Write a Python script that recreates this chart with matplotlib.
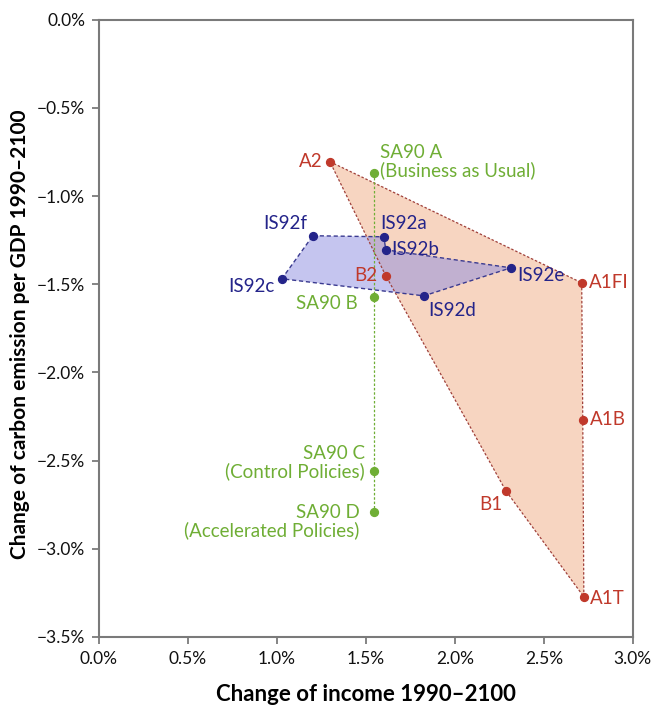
import matplotlib
matplotlib.use("Agg")
import matplotlib.pyplot as plt
from matplotlib.patches import Polygon
from matplotlib.ticker import FuncFormatter

plt.rcParams['font.family'] = ['Lato', 'DejaVu Sans']

# SRES scenarios (income change %, carbon intensity change %)
sres_names = ['A2', 'A1FI', 'A1B', 'A1T', 'B1', 'B2']
sres_x = [1.298, 2.713, 2.719, 2.725, 2.287, 1.612]
sres_y = [-0.805, -1.492, -2.269, -3.273, -2.672, -1.452]

# IS92 scenarios
is92_names = ['IS92f', 'IS92a', 'IS92b', 'IS92e', 'IS92d', 'IS92c']
is92_x = [1.202, 1.601, 1.612, 2.315, 1.826, 1.028]
is92_y = [-1.225, -1.231, -1.305, -1.407, -1.566, -1.469]

# SA90 scenarios
sa90_names = ['SA90 A\n(Business as Usual)', 'SA90 B',
              'SA90 C\n(Control Policies)', 'SA90 D\n(Accelerated Policies)']
sa90_x = [1.545, 1.545, 1.545, 1.545]
sa90_y = [-0.868, -1.571, -2.558, -2.791]

red = '#c0392b'
blue = '#24248a'
green = '#6fae35'

fig = plt.figure(figsize=(6.51, 7.06), dpi=100)
ax = fig.add_axes([0.152, 0.098, 0.820, 0.874])

# filled areas
ax.add_patch(Polygon(list(zip(sres_x, sres_y)), closed=True,
                     facecolor='#f2b48e', alpha=0.55, edgecolor='none', zorder=1))
ax.add_patch(Polygon(list(zip(is92_x, is92_y)), closed=True,
                     facecolor='#8c8ce0', alpha=0.5, edgecolor='none', zorder=1))

# outlines
ax.plot(sres_x + sres_x[:1], sres_y + sres_y[:1], ls=(0, (2, 1.5)), lw=0.9,
        color='#a0403a', zorder=2)
ax.plot(is92_x + is92_x[:1], is92_y + is92_y[:1], ls=(0, (3, 2)), lw=1.0,
        color='#3a3a90', zorder=2)
ax.plot(sa90_x, sa90_y, ls=(0, (2, 1.5)), lw=0.9, color=green, zorder=2)

ax.scatter(sres_x, sres_y, s=32, color=red, zorder=4)
ax.scatter(is92_x, is92_y, s=32, color=blue, zorder=4)
ax.scatter(sa90_x, sa90_y, s=32, color=green, zorder=4)

fs = 13.5
sres_off = {'A2': (-7, 0, 'right'), 'A1FI': (7, 0, 'left'), 'A1B': (7, 0, 'left'),
            'A1T': (6, -2, 'left'), 'B1': (-3, -14, 'right'), 'B2': (-8, 0, 'right')}
for n, x, y in zip(sres_names, sres_x, sres_y):
    dx, dy, ha = sres_off[n]
    ax.annotate(n, (x, y), xytext=(dx, dy), textcoords='offset pixels',
                ha=ha, va='center', color=red, fontsize=fs, zorder=5)

is92_off = {'IS92f': (-6, 12, 'right'), 'IS92a': (-4, 13, 'left'),
            'IS92b': (5, 0, 'left'), 'IS92e': (6, -8, 'left'),
            'IS92d': (4, -15, 'left'), 'IS92c': (-7, -8, 'right')}
for n, x, y in zip(is92_names, is92_x, is92_y):
    dx, dy, ha = is92_off[n]
    ax.annotate(n, (x, y), xytext=(dx, dy), textcoords='offset pixels',
                ha=ha, va='center', color=blue, fontsize=fs, zorder=5)

sa90_off = [(6, 11, 'left'), (-16, -7, 'right'), (-9, 8, 'right'), (-14, -10, 'right')]
for n, x, y, (dx, dy, ha) in zip(sa90_names, sa90_x, sa90_y, sa90_off):
    ax.annotate(n, (x, y), xytext=(dx, dy), textcoords='offset pixels',
                ha=ha, va='center', multialignment=ha, color=green,
                fontsize=fs, linespacing=1.0, zorder=5)

ax.set_xlim(0, 3.0)
ax.set_ylim(-3.5, 0)
ax.set_xticks([0, 0.5, 1.0, 1.5, 2.0, 2.5, 3.0])
ax.set_yticks([0, -0.5, -1.0, -1.5, -2.0, -2.5, -3.0, -3.5])
ax.xaxis.set_major_formatter(FuncFormatter(lambda v, p: f'{v:.1f}%'))
ax.yaxis.set_major_formatter(FuncFormatter(lambda v, p: ('\u2212' if v < 0 else '') + f'{abs(v):.1f}%'))
ax.tick_params(direction='out', length=5, width=1.2, color='#707070',
               labelsize=12.5, labelcolor='#111111', pad=5)

for s in ax.spines.values():
    s.set_color('#7a7a7a')
    s.set_linewidth(1.5)

ax.set_xlabel('Change of income 1990\u20132100', fontsize=16, fontweight='bold')
ax.set_ylabel('Change of carbon emission per GDP 1990\u20132100', fontsize=15,
              fontweight='bold')
ax.xaxis.set_label_coords(0.5, -0.077)
ax.yaxis.set_label_coords(-0.13, 0.49)

fig.savefig('out.png', dpi=100)
